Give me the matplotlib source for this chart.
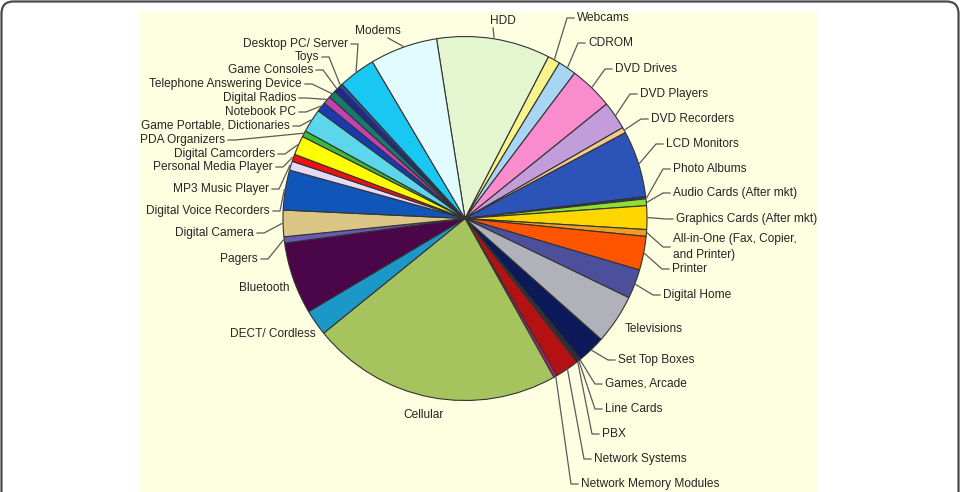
import numpy as np
import matplotlib.pyplot as plt
from matplotlib.patches import FancyBboxPatch, Rectangle

plt.rcParams['font.family'] = ['Liberation Sans', 'DejaVu Sans']

W, H = 961, 492

# market segments, clockwise from the top
segments = [
    "HDD", "Webcams", "CDROM", "DVD Drives", "DVD Players", "DVD Recorders",
    "LCD Monitors", "Photo Albums", "Audio Cards (After mkt)",
    "Graphics Cards (After mkt)", "All-in-One (Fax, Copier,\nand Printer)",
    "Printer", "Digital Home", "Televisions", "Set Top Boxes",
    "Games, Arcade", "Line Cards", "PBX", "Network Systems",
    "Network Memory Modules", "Cellular", "DECT/ Cordless", "Bluetooth",
    "Pagers", "Digital Camera", "Digital Voice Recorders", "MP3 Music Player",
    "Personal Media Player", "Digital Camcorders", "PDA Organizers",
    "Game Portable, Dictionaries", "Notebook PC", "Digital Radios",
    "Telephone Answering Device", "Game Consoles", "Toys",
    "Desktop PC/ Server", "Modems",
]

# share of the total (%)
shares = [
    10.1, 1.1, 1.6, 3.9, 2.5, 0.5,
    5.9, 0.2, 0.6,
    2.1, 0.6,
    3.0, 2.6, 4.4, 2.5,
    0.15, 0.15, 0.12, 2.1,
    0.3, 22.3, 2.3, 6.4,
    0.55, 2.35, 3.55, 0.8,
    0.65, 1.7, 0.55,
    2.1, 0.85, 0.7,
    0.7, 0.55, 0.33,
    3.3, 6.0,
]

colors = [
    "#e3f6d0", "#f7f48c", "#a9d5f5", "#f98ccd", "#c29cdb", "#f6c98c",
    "#2c54b8", "#1c3a8c", "#8fe02c",
    "#ffd700", "#f0a020",
    "#ff5500", "#4c509c", "#b1b1b9", "#0c1a5a",
    "#141428", "#22224a", "#000000", "#b41212",
    "#b0207a", "#a6c45e", "#1c98c8", "#4a0648",
    "#6a5ab8", "#dcc686", "#1056b8", "#e2daf6",
    "#ee1111", "#ffff00", "#3cb83c",
    "#5cd6ea", "#1a3ab0", "#c242b2",
    "#1a7a70", "#1a2a90", "#2a48b0",
    "#18c8f2", "#e2fbff",
]

# label placement in pixels (x, y from top), alignment, leader line
label_layout = [
    (503, 21, "center", True), (577, 18, "left", True), (588, 43, "left", True),
    (615, 69, "left", True), (640, 94, "left", True), (651, 119, "left", True),
    (666, 144, "left", True), (673, 169, "left", True), (673, 193, "left", True),
    (676, 219, "left", True), (673, 247, "left", True),
    (672, 269, "left", True), (663, 295, "left", True), (625, 329, "left", False),
    (618, 360, "left", True),
    (605, 384, "left", True), (605, 409, "left", True), (602, 434, "left", True),
    (594, 459, "left", True),
    (581, 484, "left", True), (423, 415, "center", False),
    (316, 334, "right", False), (289, 288, "right", False),
    (258, 259, "right", True), (254, 233, "right", True), (270, 211, "right", True),
    (269, 189, "right", True),
    (273, 167, "right", True), (275, 154, "right", True), (225, 140, "right", True),
    (290, 126, "right", True), (296, 112, "right", True), (296, 98, "right", True),
    (302, 84, "right", True), (313, 70, "right", True), (319, 57, "right", True),
    (348, 44, "right", True), (378, 31, "center", True),
]

cx, cy, r = 465, H - 218.5, 182

fig = plt.figure(figsize=(W / 100, H / 100), dpi=100)
ax = fig.add_axes([0, 0, 1, 1])

# outer rounded frame and cream panel
ax.add_patch(FancyBboxPatch((1.5, -40), W - 4, H - 1.5 + 40,
                            boxstyle="round,pad=0,rounding_size=12",
                            facecolor="white", edgecolor="#4a4a4a", lw=1.6))
ax.add_patch(Rectangle((140, 0), 678, H - 12, facecolor="#fefee0", edgecolor="none"))

wedges, _ = ax.pie(shares, colors=colors, startangle=99, counterclock=False,
                   center=(cx, cy), radius=r,
                   wedgeprops=dict(edgecolor="#333333", linewidth=0.8))

for w, name, (tx, ty, ha, leader) in zip(wedges, segments, label_layout):
    ty = H - ty
    ax.text(tx, ty, name, ha=ha, va="center", fontsize=8.6, color="#252525",
            linespacing=1.35)
    if not leader:
        continue
    mid = np.deg2rad((w.theta1 + w.theta2) / 2)
    ex, ey = cx + (r + 1) * np.cos(mid), cy + (r + 1) * np.sin(mid)
    if ha == "left":
        xs, ys = [tx - 3, tx - 10, ex], [ty, ty, ey]
    elif ha == "right":
        xs, ys = [tx + 3, tx + 10, ex], [ty, ty, ey]
    else:
        side = 1 if ex > tx else -1
        xs, ys = [tx + side * 10, ex], [ty - 7, ey]
    ax.plot(xs, ys, color="#5a5a5a", lw=0.9, solid_joinstyle="round")

ax.set_xlim(0, W)
ax.set_ylim(0, H)
ax.set_aspect("auto")
ax.axis("off")

fig.savefig("out.png", dpi=100, facecolor="white")
